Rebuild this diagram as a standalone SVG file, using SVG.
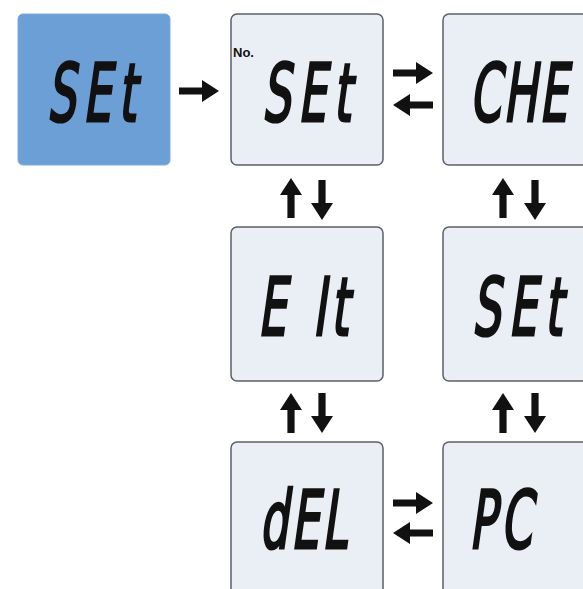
<svg xmlns="http://www.w3.org/2000/svg" xmlns:xlink="http://www.w3.org/1999/xlink" width="583" height="589" viewBox="0 0 583 589">
<style>
.box{fill:#eaeff6;stroke:#5b6068;stroke-width:1.5}
.blue{fill:#6b9fd6;stroke:#7aaade;stroke-width:1}
.lcd{font-family:"DejaVu Sans",sans-serif;font-size:80px;fill:#111;stroke:#111;stroke-width:3;stroke-linejoin:miter}
.no{font-family:"Liberation Sans",Arial,sans-serif;font-size:13px;font-weight:bold;fill:#111}
.arw{fill:#111}
</style>
<defs>
<path id="ar" d="M0,0 L-17,-11 L-17,-3.6 L-40,-3.6 L-40,3.6 L-17,3.6 L-17,11 Z"/>
</defs>
<rect width="583" height="589" fill="#ffffff"/>
<g id="node-set-start">
<rect class="blue" x="18" y="14" width="152" height="151" rx="5"/>
<text class="lcd" transform="translate(47,121) skewX(-8) scale(0.56,1)" letter-spacing="13">SEt</text>
</g>
<g id="node-no-set">
<rect class="box" x="231" y="14" width="152" height="151" rx="6"/>
<text class="no" x="233" y="57">No.</text>
<text class="lcd" transform="translate(262,121) skewX(-8) scale(0.56,1)" letter-spacing="13">SEt</text>
</g>
<g id="node-che">
<rect class="box" x="443" y="14" width="160" height="151" rx="6"/>
<text class="lcd" transform="translate(469.5,121) skewX(-8) scale(0.56,1)" letter-spacing="4">CHE</text>
</g>
<g id="node-exit">
<rect class="box" x="231" y="227" width="152" height="154" rx="6"/>
<text class="lcd" transform="translate(257.7,335) skewX(-8) scale(0.56,1)" letter-spacing="9"><tspan x="0">E</tspan> <tspan x="98">It</tspan></text>
</g>
<g id="node-set-2">
<rect class="box" x="443" y="227" width="160" height="154" rx="6"/>
<text class="lcd" transform="translate(472,335) skewX(-8) scale(0.56,1)" letter-spacing="14">SEt</text>
</g>
<g id="node-del">
<rect class="box" x="231" y="442" width="152" height="170" rx="6"/>
<text class="lcd" transform="translate(259.5,548) skewX(-8) scale(0.56,1)" letter-spacing="5">dEL</text>
</g>
<g id="node-pc">
<rect class="box" x="443" y="442" width="160" height="170" rx="6"/>
<text class="lcd" transform="translate(469,548) skewX(-8) scale(0.56,1)" letter-spacing="8">PC</text>
</g>
<g id="connectors" class="arw">
<use xlink:href="#ar" transform="translate(219,91)"/>
<use xlink:href="#ar" transform="translate(433,73)"/>
<use xlink:href="#ar" transform="translate(393,105) rotate(180)"/>
<use xlink:href="#ar" transform="translate(291,178) rotate(-90)"/>
<use xlink:href="#ar" transform="translate(322,220) rotate(90)"/>
<use xlink:href="#ar" transform="translate(503,178) rotate(-90)"/>
<use xlink:href="#ar" transform="translate(535,220) rotate(90)"/>
<use xlink:href="#ar" transform="translate(291,393) rotate(-90)"/>
<use xlink:href="#ar" transform="translate(322,433) rotate(90)"/>
<use xlink:href="#ar" transform="translate(503,393) rotate(-90)"/>
<use xlink:href="#ar" transform="translate(535,433) rotate(90)"/>
<use xlink:href="#ar" transform="translate(433,503)"/>
<use xlink:href="#ar" transform="translate(393,533) rotate(180)"/>
</g>
</svg>
